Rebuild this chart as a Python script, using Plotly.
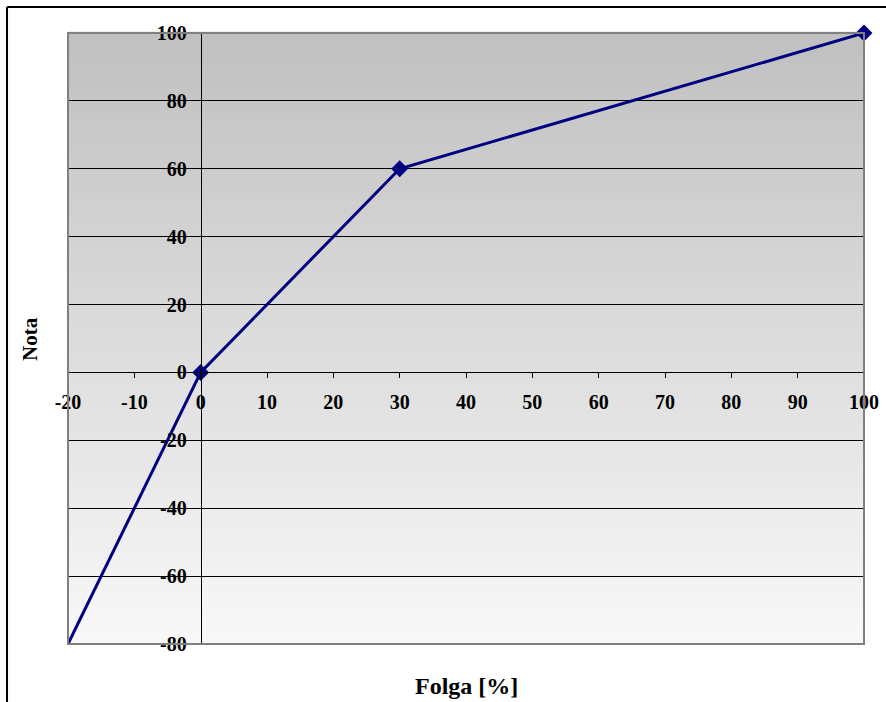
import plotly.graph_objects as go

# Data
folga = [-25, 0, 30, 100]
nota = [-100, 0, 60, 100]
marker_x = [0, 30, 100]
marker_y = [0, 60, 100]
x_ticks = [-20, -10, 0, 10, 20, 30, 40, 50, 60, 70, 80, 90, 100]
y_ticks = [-80, -60, -40, -20, 0, 20, 40, 60, 80, 100]

NAVY = "#000080"
FONT = "Liberation Serif"

fig = go.Figure()
fig.add_trace(go.Scatter(x=folga, y=nota, mode="lines",
                         line=dict(color=NAVY, width=3), showlegend=False,
                         hoverinfo="skip"))
fig.add_trace(go.Scatter(x=marker_x, y=marker_y, mode="markers",
                         marker=dict(symbol="diamond", size=13, color=NAVY),
                         cliponaxis=False, showlegend=False))

# gradient background (dark gray top -> light bottom)
N = 80
shapes = []
for i in range(N):
    f = i / (N - 1)
    c = int(round(248 - (248 - 192) * f))
    shapes.append(dict(type="rect", xref="x domain", yref="y domain",
                       x0=0, x1=1, y0=i / N, y1=(i + 1) / N + 0.002,
                       fillcolor=f"rgb({c},{c},{c})", line=dict(width=0),
                       layer="below"))
# plot area border
shapes.append(dict(type="rect", xref="x domain", yref="y domain",
                   x0=0, x1=1, y0=0, y1=1,
                   line=dict(color="#808080", width=2), layer="above"))
# outer chart border (partially visible)
shapes.append(dict(type="line", xref="paper", yref="paper",
                   x0=-0.0766, x1=1.2, y0=1.0425, y1=1.0425,
                   line=dict(color="black", width=2)))
shapes.append(dict(type="line", xref="paper", yref="paper",
                   x0=-0.0766, x1=-0.0766, y0=1.0425, y1=-0.2,
                   line=dict(color="black", width=2)))

tickfont = dict(family=FONT, size=20, color="black", weight="bold")

fig.update_layout(
    width=886, height=702,
    margin=dict(l=68, r=22, t=33, b=58),
    paper_bgcolor="white",
    plot_bgcolor="white",
    shapes=shapes,
    xaxis=dict(range=[-20, 100], tickvals=x_ticks, ticktext=[str(v) for v in x_ticks],
               showgrid=False, zeroline=False, showline=True, linecolor="black",
               linewidth=1, ticks="outside", ticklen=5, tickcolor="black",
               anchor="free", position=80 / 180, tickfont=tickfont,
               ticklabelstandoff=7, automargin=False),
    yaxis=dict(range=[-80, 100], tickvals=y_ticks, ticktext=[str(v) for v in y_ticks],
               showgrid=True, gridcolor="black", gridwidth=1, zeroline=False,
               showline=True, linecolor="black", linewidth=1, ticks="outside",
               ticklen=6, tickcolor="black", anchor="free", position=20 / 120,
               tickfont=tickfont, ticklabelstandoff=4, automargin=False),
    annotations=[
        dict(text="Folga [%]", xref="paper", yref="paper", x=0.5, y=-0.068,
             showarrow=False, yanchor="middle",
             font=dict(family=FONT, size=24, color="black", weight="bold")),
        dict(text="Nota", xref="paper", yref="paper", x=-0.0485, y=0.5,
             showarrow=False, textangle=-90, xanchor="center",
             font=dict(family=FONT, size=21, color="black", weight="bold")),
    ],
)

fig.write_html("out.html", config={"displayModeBar": False},
               post_script="document.body.style.margin='0';document.body.style.overflow='hidden';")
